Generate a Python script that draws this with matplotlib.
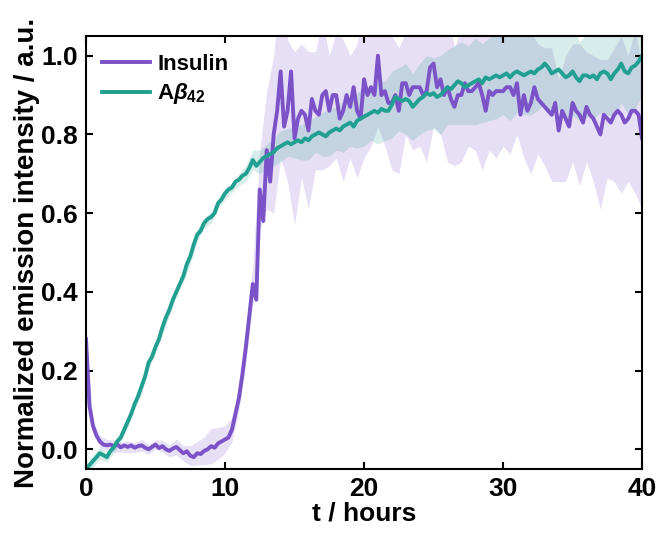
import numpy as np
import matplotlib
matplotlib.use("Agg")
import matplotlib.pyplot as plt

# time grid (hours), one reading every 15 min
t = np.arange(0, 40.01, 0.25)
# band grid, every 30 min
t_band = np.arange(0, 40.01, 0.5)

insulin = [
    0.28, 0.11, 0.06, 0.035, 0.02, 0.012, 0.01, 0.012,
    0.008, 0.012, 0.005, 0.01, 0.006, 0.01, 0.004, 0.008,
    0.01, 0.004, 0.0, 0.006, 0.012, 0.003, 0.008, 0.0,
    -0.004, 0.002, 0.006, -0.002, -0.01, -0.005, -0.016, -0.02,
    -0.01, -0.012, -0.004, 0.0, 0.008, 0.004, 0.015, 0.02,
    0.025, 0.03, 0.05, 0.09, 0.13, 0.19, 0.26, 0.34,
    0.42, 0.38, 0.66, 0.58, 0.76, 0.68, 0.80, 0.86,
    0.96, 0.82, 0.86, 0.96, 0.79, 0.84, 0.86, 0.85,
    0.81, 0.89, 0.86, 0.85, 0.90, 0.91, 0.86, 0.90,
    0.90, 0.84, 0.86, 0.90, 0.87, 0.92, 0.86, 0.84,
    0.94, 0.90, 0.92, 0.90, 1.00, 0.90, 0.91, 0.88,
    0.88, 0.90, 0.86, 0.93, 0.93, 0.90, 0.92, 0.92,
    0.92, 0.90, 0.91, 0.97, 0.98, 0.92, 0.94, 0.90,
    0.92, 0.89, 0.87, 0.90, 0.90, 0.93, 0.91, 0.91,
    0.92, 0.93, 0.90, 0.86, 0.91, 0.90, 0.91, 0.91,
    0.91, 0.92, 0.92, 0.90, 0.93, 0.85, 0.90, 0.86,
    0.88, 0.92, 0.89, 0.88, 0.87, 0.86, 0.85, 0.88,
    0.81, 0.86, 0.84, 0.82, 0.88, 0.86, 0.85, 0.83,
    0.87, 0.85, 0.84, 0.82, 0.80, 0.85, 0.84, 0.83,
    0.85, 0.86, 0.85, 0.83, 0.84, 0.86, 0.86, 0.85,
    0.79,
]

abeta = [
    -0.05, -0.04, -0.03, -0.02, -0.01, -0.015, -0.02, -0.005,
    0.005, 0.02, 0.03, 0.05, 0.07, 0.09, 0.115, 0.135,
    0.16, 0.185, 0.22, 0.235, 0.26, 0.28, 0.31, 0.335,
    0.355, 0.38, 0.40, 0.42, 0.44, 0.47, 0.49, 0.52,
    0.545, 0.555, 0.575, 0.585, 0.59, 0.60, 0.625, 0.635,
    0.65, 0.66, 0.665, 0.68, 0.685, 0.695, 0.70, 0.715,
    0.735, 0.72, 0.73, 0.74, 0.745, 0.75, 0.755, 0.765,
    0.77, 0.775, 0.78, 0.775, 0.78, 0.785, 0.78, 0.79,
    0.785, 0.795, 0.80, 0.805, 0.80, 0.795, 0.805, 0.81,
    0.815, 0.81, 0.82, 0.825, 0.83, 0.82, 0.835, 0.84,
    0.845, 0.85, 0.855, 0.86, 0.855, 0.865, 0.86, 0.86,
    0.875, 0.895, 0.89, 0.885, 0.89, 0.885, 0.87, 0.88,
    0.89, 0.895, 0.905, 0.90, 0.905, 0.895, 0.90, 0.91,
    0.92, 0.915, 0.925, 0.935, 0.93, 0.92, 0.925, 0.93,
    0.935, 0.94, 0.93, 0.945, 0.94, 0.945, 0.95, 0.945,
    0.95, 0.955, 0.945, 0.955, 0.96, 0.955, 0.95, 0.955,
    0.96, 0.955, 0.965, 0.97, 0.98, 0.97, 0.955, 0.96,
    0.965, 0.955, 0.945, 0.95, 0.96, 0.945, 0.935, 0.95,
    0.95, 0.945, 0.95, 0.94, 0.955, 0.96, 0.955, 0.94,
    0.955, 0.965, 0.98, 0.96, 0.955, 0.97, 0.975, 0.985,
    1.0,
]

# half-width of the shaded spread, every 30 min
insulin_spread = [
    0.01, 0.01, 0.015, 0.015, 0.015, 0.012, 0.015, 0.012, 0.015, 0.012,
    0.012, 0.015, 0.015, 0.02, 0.02, 0.025, 0.03, 0.035, 0.045, 0.04,
    0.035, 0.03, 0.03, 0.04, 0.05, 0.10, 0.15, 0.20, 0.22, 0.18,
    0.22, 0.17, 0.20, 0.15, 0.19, 0.14, 0.16, 0.18, 0.13, 0.17,
    0.20, 0.15, 0.18, 0.14, 0.17, 0.16, 0.13, 0.16, 0.15, 0.18,
    0.16, 0.14, 0.19, 0.15, 0.17, 0.14, 0.16, 0.19, 0.15, 0.17,
    0.14, 0.17, 0.13, 0.16, 0.18, 0.14, 0.15, 0.17, 0.13, 0.16,
    0.15, 0.18, 0.14, 0.16, 0.19, 0.15, 0.17, 0.20, 0.16, 0.21,
    0.18,
]

abeta_spread = [
    0.012, 0.015, 0.015, 0.012, 0.015, 0.012, 0.015, 0.012, 0.018, 0.015,
    0.015, 0.018, 0.015, 0.012, 0.015, 0.018, 0.015, 0.012, 0.015, 0.012,
    0.015, 0.012, 0.015, 0.02, 0.025, 0.03, 0.03, 0.035, 0.04, 0.035,
    0.04, 0.045, 0.05, 0.045, 0.055, 0.06, 0.055, 0.065, 0.06, 0.07,
    0.075, 0.07, 0.08, 0.075, 0.085, 0.08, 0.09, 0.085, 0.09, 0.095,
    0.09, 0.10, 0.095, 0.10, 0.105, 0.10, 0.11, 0.10, 0.105, 0.11,
    0.10, 0.11, 0.105, 0.10, 0.11, 0.105, 0.10, 0.11, 0.10, 0.105,
    0.11, 0.10, 0.105, 0.11, 0.10, 0.105, 0.11, 0.10, 0.105, 0.11,
    0.10,
]

PURPLE = "#7B52C8"
TEAL = "#21A091"

plt.rcParams["font.family"] = ["Liberation Sans", "DejaVu Sans"]
plt.rcParams["font.weight"] = "bold"
plt.rcParams["axes.labelweight"] = "bold"
plt.rcParams["mathtext.fontset"] = "custom"
plt.rcParams["mathtext.rm"] = "Liberation Sans:bold"
plt.rcParams["mathtext.it"] = "Liberation Sans:italic:bold"
plt.rcParams["mathtext.bf"] = "Liberation Sans:bold"

fig = plt.figure(figsize=(6.64, 5.35), dpi=100)
ax = fig.add_axes([0.1295, 0.1234, 0.8375, 0.8093])

ins = np.array(insulin)
ab = np.array(abeta)
ins_b = ins[::2]
ab_b = ab[::2]
ins_s = np.array(insulin_spread)
ab_s = np.array(abeta_spread)

ax.fill_between(t_band, ins_b - ins_s, ins_b + ins_s, color=PURPLE,
                alpha=0.18, linewidth=0)
ax.fill_between(t_band, ab_b - ab_s, ab_b + ab_s, color=TEAL,
                alpha=0.18, linewidth=0)
ax.plot(t, ins, color=PURPLE, lw=2.8, label="Insulin")
ax.plot(t, ab, color=TEAL, lw=2.8, label=r"A$\beta_{42}$")

ax.set_xlim(0, 40)
ax.set_ylim(-0.05, 1.05)
ax.set_xticks([0, 10, 20, 30, 40])
ax.set_yticks([0.0, 0.2, 0.4, 0.6, 0.8, 1.0])
ax.set_yticklabels(["0.0", "0.2", "0.4", "0.6", "0.8", "1.0"])

ax.tick_params(direction="in", top=True, right=True, length=5, width=1.5,
               labelsize=19, pad=6)
for s in ax.spines.values():
    s.set_linewidth(1.5)

ax.set_xlabel("t / hours", fontsize=19, labelpad=0)
ax.set_ylabel("Normalized emission intensity / a.u.", fontsize=20,
              labelpad=1)

leg = ax.legend(loc="upper left", bbox_to_anchor=(0.0, 0.995), frameon=False,
                fontsize=16, handlelength=2.2, handletextpad=0.3,
                labelspacing=0.3, borderaxespad=0.3)

fig.savefig("out.png", dpi=100)
